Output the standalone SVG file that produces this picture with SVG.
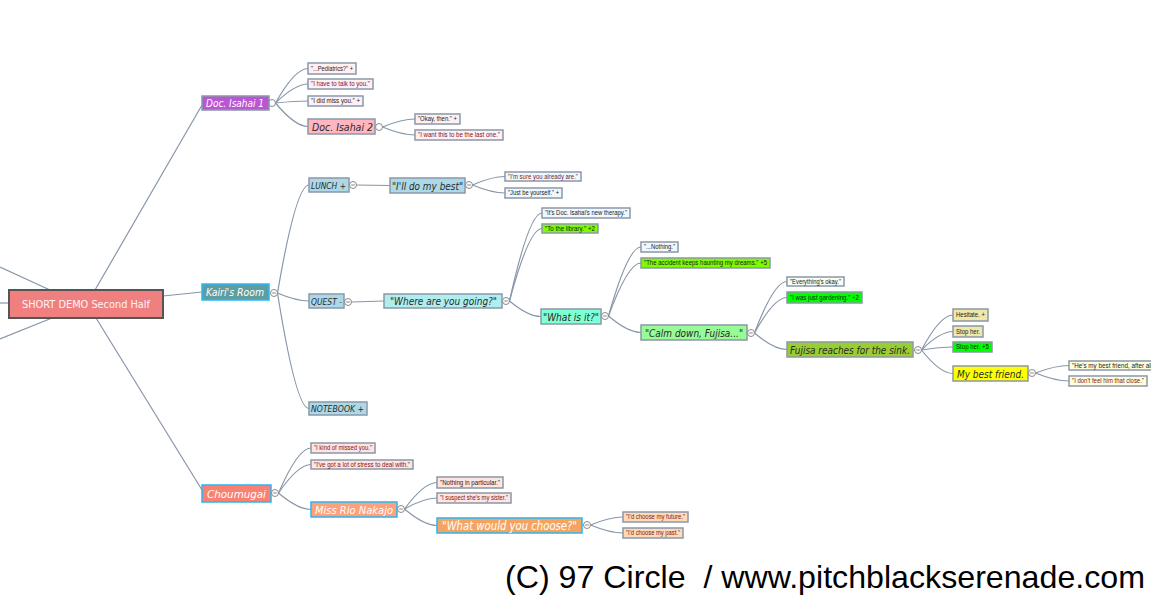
<svg xmlns="http://www.w3.org/2000/svg" width="1151" height="596" viewBox="0 0 1151 596">
<style>
.bg{fill:#ffffff}
.n{stroke:#8b98a9;stroke-width:1.5}
.cy{stroke:#29b6f6;stroke-width:1.5}
.root{fill:#f08080;stroke:#555;stroke-width:2}
.s{font-family:"Liberation Sans",Arial,sans-serif;font-size:6.5px;fill:#1a1a1a}
.r{fill:#7a1818}
.m{font-family:"DejaVu Sans","Liberation Sans",sans-serif;font-style:italic;font-size:10px;fill:#2a2a2a}
.w{fill:#ffffff}
.conn path,.conn line{fill:none;stroke:#8796aa;stroke-width:1.2}
.k circle{fill:#fff;stroke:#8a8a8a;stroke-width:1}
.k line{stroke:#777;stroke-width:0.9}
.foot{font-family:"Liberation Sans",Arial,sans-serif;font-size:32px;fill:#000;white-space:pre}
</style>
<rect class="bg" x="0" y="0" width="1151" height="596"/>
<g id="connectors" class="conn">
<line x1="95" y1="290" x2="202" y2="105"/>
<line x1="96" y1="318" x2="202" y2="490"/>
<line x1="163" y1="296" x2="202" y2="292"/>
<line x1="0" y1="267" x2="50" y2="290"/>
<line x1="0" y1="303" x2="9" y2="303"/>
<line x1="0" y1="339" x2="52" y2="318"/>
<path d="M275.5 103 Q295 68.5 308 68.5"/>
<path d="M275.5 103 Q295 84 308 84"/>
<path d="M275.5 103 Q295 101 308 101"/>
<path d="M275.5 103 Q295 126.5 308 126.5"/>
<path d="M382.5 127 Q402 119 415 119"/>
<path d="M382.5 127 Q402 135 415 135"/>
<path d="M277.5 293 Q296 185 309 185"/>
<path d="M277.5 293 Q296 301 309 301"/>
<path d="M277.5 293 Q296 408.5 309 408.5"/>
<line x1="356.5" y1="185" x2="390" y2="185.5"/>
<path d="M472.5 185 Q492 176.5 505 176.5"/>
<path d="M472.5 185 Q492 193 505 193"/>
<line x1="351.5" y1="302" x2="384" y2="301"/>
<path d="M509.5 301 Q529 213 542 213"/>
<path d="M509.5 301 Q529 228.5 542 228.5"/>
<path d="M509.5 301 Q528 316.5 541 316.5"/>
<path d="M608.5 316 Q628 247 641 247"/>
<path d="M608.5 316 Q628 263 641 263"/>
<path d="M608.5 316 Q628 332.5 641 332.5"/>
<path d="M754.5 333 Q774 281.5 787 281.5"/>
<path d="M754.5 333 Q774 297.5 787 297.5"/>
<path d="M754.5 333 Q774 349.5 787 349.5"/>
<path d="M921.5 350 Q940 315 953 315"/>
<path d="M921.5 350 Q940 331.5 953 331.5"/>
<path d="M921.5 350 Q940 347 953 347"/>
<path d="M921.5 350 Q940 373.5 953 373.5"/>
<path d="M1035.5 373 Q1055 365.5 1069 365.5"/>
<path d="M1035.5 373 Q1055 381 1069 381"/>
<path d="M278.5 493 Q298 448 311 448"/>
<path d="M278.5 493 Q298 464.5 311 464.5"/>
<path d="M278.5 493 Q298 509.5 311 509.5"/>
<path d="M404.5 509 Q424 482.5 437 482.5"/>
<path d="M404.5 509 Q424 498 437 498"/>
<path d="M404.5 509 Q424 525.5 437 525.5"/>
<path d="M590.5 525 Q610 517 623 517"/>
<path d="M590.5 525 Q610 533 623 533"/>
</g>
<g id="toggles" class="k">
<circle cx="272" cy="103" r="3.5"/>
<circle cx="379" cy="127" r="3.5"/>
<circle cx="274" cy="293" r="3.5"/><line x1="272.2" y1="293" x2="275.8" y2="293"/>
<circle cx="353" cy="185" r="3.5"/><line x1="351.2" y1="185" x2="354.8" y2="185"/>
<circle cx="469" cy="185" r="3.5"/><line x1="467.2" y1="185" x2="470.8" y2="185"/>
<circle cx="348" cy="302" r="3.5"/><line x1="346.2" y1="302" x2="349.8" y2="302"/>
<circle cx="506" cy="301" r="3.5"/><line x1="504.2" y1="301" x2="507.8" y2="301"/>
<circle cx="605" cy="316" r="3.5"/><line x1="603.2" y1="316" x2="606.8" y2="316"/>
<circle cx="751" cy="333" r="3.5"/><line x1="749.2" y1="333" x2="752.8" y2="333"/>
<circle cx="918" cy="350" r="3.5"/><line x1="916.2" y1="350" x2="919.8" y2="350"/>
<circle cx="1032" cy="373" r="3.5"/><line x1="1030.2" y1="373" x2="1033.8" y2="373"/>
<circle cx="275" cy="493" r="3.5"/><line x1="273.2" y1="493" x2="276.8" y2="493"/>
<circle cx="401" cy="509" r="3.5"/><line x1="399.2" y1="509" x2="402.8" y2="509"/>
<circle cx="587" cy="525" r="3.5"/><line x1="585.2" y1="525" x2="588.8" y2="525"/>
</g>
<g id="root"><rect class="root" x="9" y="290" width="154" height="28"/><text class="m w" style="font-style:normal;font-size:11px;fill:#fff4f4" x="22" y="308" textLength="128" lengthAdjust="spacingAndGlyphs">SHORT DEMO Second Half</text></g>
<g id="doc1"><rect class="n" x="202" y="96" width="67" height="14" fill="#ba55d3"/><text class="m w" x="206" y="107" textLength="58" lengthAdjust="spacingAndGlyphs">Doc. Isahai 1</text></g>
<g id="n-pediatrics"><rect class="n" x="308" y="63" width="48" height="11" fill="#fff0f5"/><text class="s" x="311" y="70.8" textLength="42" lengthAdjust="spacingAndGlyphs">"...Pediatrics?" +</text></g>
<g id="n-talk"><rect class="n" x="308" y="79" width="65" height="10" fill="#fff0f5"/><text class="s r" x="311" y="86.3" textLength="59" lengthAdjust="spacingAndGlyphs">"I have to talk to you."</text></g>
<g id="n-miss"><rect class="n" x="308" y="96" width="55" height="10" fill="#fff0f5"/><text class="s" x="311" y="103.3" textLength="49" lengthAdjust="spacingAndGlyphs">"I did miss you." +</text></g>
<g id="doc2"><rect class="n" x="308" y="119" width="67" height="15" fill="#ffb6c1"/><text class="m" x="312" y="130.5" textLength="61" lengthAdjust="spacingAndGlyphs">Doc. Isahai 2</text></g>
<g id="n-okay"><rect class="n" x="415" y="114" width="45" height="10" fill="#fff0f5"/><text class="s" x="418" y="121.3" textLength="39" lengthAdjust="spacingAndGlyphs">"Okay, then." +</text></g>
<g id="n-last"><rect class="n" x="415" y="130" width="88" height="10" fill="#fff0f5"/><text class="s r" x="418" y="137.3" textLength="82" lengthAdjust="spacingAndGlyphs">"I want this to be the last one."</text></g>
<g id="kairi"><rect class="cy" x="202" y="284" width="67" height="16" fill="#5f9ea0"/><text class="m w" x="206" y="296" textLength="58" lengthAdjust="spacingAndGlyphs">Kairi's Room</text></g>
<g id="lunch"><rect class="n" x="309" y="178" width="40" height="14" fill="#add8e6"/><text class="m" style="font-size:9px" x="311" y="188.5" textLength="35" lengthAdjust="spacingAndGlyphs">LUNCH +</text></g>
<g id="dobest"><rect class="n" x="390" y="178" width="75" height="15" fill="#add8e6"/><text class="m" x="392" y="189.5" textLength="71" lengthAdjust="spacingAndGlyphs">"I'll do my best"</text></g>
<g id="n-sure"><rect class="n" x="505" y="172" width="76" height="9" fill="#f0f8ff"/><text class="s r" x="508" y="178.8" textLength="70" lengthAdjust="spacingAndGlyphs">"I'm sure you already are."</text></g>
<g id="n-yourself"><rect class="n" x="505" y="188" width="57" height="10" fill="#f0f8ff"/><text class="s" x="508" y="195.3" textLength="51" lengthAdjust="spacingAndGlyphs">"Just be yourself." +</text></g>
<g id="quest"><rect class="n" x="309" y="294" width="35" height="14" fill="#add8e6"/><text class="m" style="font-size:9px" x="311" y="304.5" textLength="31" lengthAdjust="spacingAndGlyphs">QUEST -</text></g>
<g id="where"><rect class="n" x="384" y="294" width="118" height="14" fill="#afeeee"/><text class="m" x="390" y="305" textLength="107" lengthAdjust="spacingAndGlyphs">"Where are you going?"</text></g>
<g id="n-therapy"><rect class="n" x="542" y="208" width="88" height="10" fill="#f0f8ff"/><text class="s" x="545" y="215.3" textLength="82" lengthAdjust="spacingAndGlyphs">"It's Doc. Isahai's new therapy."</text></g>
<g id="n-library"><rect class="n" x="542" y="224" width="56" height="9" fill="#7cfc00"/><text class="s" x="545" y="230.8" textLength="50" lengthAdjust="spacingAndGlyphs">"To the library." +2</text></g>
<g id="whatis"><rect class="n" x="541" y="309" width="60" height="15" fill="#7fffd4"/><text class="m" x="543" y="320.5" textLength="56" lengthAdjust="spacingAndGlyphs">"What is it?"</text></g>
<g id="n-nothing"><rect class="n" x="641" y="242" width="37" height="10" fill="#f0f8ff"/><text class="s" x="644" y="249.3" textLength="31" lengthAdjust="spacingAndGlyphs">"...Nothing."</text></g>
<g id="n-accident"><rect class="n" x="641" y="258" width="129" height="10" fill="#7cfc00"/><text class="s" x="644" y="265.3" textLength="123" lengthAdjust="spacingAndGlyphs">"The accident keeps haunting my dreams." +5</text></g>
<g id="calm"><rect class="n" x="641" y="325" width="106" height="15" fill="#98fb98"/><text class="m" x="645" y="336.5" textLength="98" lengthAdjust="spacingAndGlyphs">"Calm down, Fujisa..."</text></g>
<g id="n-okay2"><rect class="n" x="787" y="277" width="57" height="9" fill="#f5fff5"/><text class="s" x="790" y="283.8" textLength="51" lengthAdjust="spacingAndGlyphs">"Everything's okay."</text></g>
<g id="n-garden"><rect class="n" x="787" y="292" width="75" height="11" fill="#00ff00"/><text class="s" x="790" y="299.8" textLength="69" lengthAdjust="spacingAndGlyphs">"I was just gardening." +2</text></g>
<g id="sink"><rect class="n" x="787" y="342" width="126" height="15" fill="#9acd32"/><text class="m" x="790" y="353.5" textLength="120" lengthAdjust="spacingAndGlyphs">Fujisa reaches for the sink.</text></g>
<g id="n-hesitate"><rect class="n" x="953" y="309" width="35" height="12" fill="#eee8aa"/><text class="s" x="956" y="317.3" textLength="29" lengthAdjust="spacingAndGlyphs">Hesitate. +</text></g>
<g id="n-stop"><rect class="n" x="953" y="326" width="30" height="11" fill="#eee8aa"/><text class="s" x="956" y="333.8" textLength="24" lengthAdjust="spacingAndGlyphs">Stop her.</text></g>
<g id="n-stop5"><rect class="n" x="953" y="342" width="39" height="10" fill="#00ff00"/><text class="s" x="956" y="349.3" textLength="33" lengthAdjust="spacingAndGlyphs">Stop her. +5</text></g>
<g id="bestfriend"><rect class="n" x="953" y="366" width="75" height="15" fill="#ffff00"/><text class="m" x="957" y="377.5" textLength="67" lengthAdjust="spacingAndGlyphs">My best friend.</text></g>
<g id="n-afterall"><rect class="n" x="1069" y="361" width="90" height="9" fill="#ffffe0"/><text class="s" x="1072" y="367.8" textLength="84" lengthAdjust="spacingAndGlyphs">"He's my best friend, after all."</text></g>
<g id="n-close"><rect class="n" x="1069" y="376" width="78" height="10" fill="#ffffe0"/><text class="s r" x="1072" y="383.3" textLength="72" lengthAdjust="spacingAndGlyphs">"I don't feel him that close."</text></g>
<g id="notebook"><rect class="n" x="309" y="402" width="58" height="13" fill="#add8e6"/><text class="m" style="font-size:9px" x="311" y="412" textLength="53" lengthAdjust="spacingAndGlyphs">NOTEBOOK +</text></g>
<g id="choumugai"><rect class="cy" x="202" y="485" width="69" height="17" fill="#fa8072"/><text class="m w" style="font-size:11px" x="207" y="497.5" textLength="59" lengthAdjust="spacingAndGlyphs">Choumugai</text></g>
<g id="n-missed"><rect class="n" x="311" y="443" width="64" height="10" fill="#ffe4e1"/><text class="s r" x="314" y="450.3" textLength="58" lengthAdjust="spacingAndGlyphs">"I kind of missed you."</text></g>
<g id="n-stress"><rect class="n" x="311" y="460" width="102" height="9" fill="#ffe4e1"/><text class="s r" x="314" y="466.8" textLength="96" lengthAdjust="spacingAndGlyphs">"I've got a lot of stress to deal with."</text></g>
<g id="rio"><rect class="cy" x="311" y="502" width="86" height="15" fill="#ffa07a"/><text class="m w" x="315" y="513.5" textLength="78" lengthAdjust="spacingAndGlyphs">Miss Rio Nakajo</text></g>
<g id="n-particular"><rect class="n" x="437" y="477" width="66" height="11" fill="#ffe4e1"/><text class="s" x="440" y="484.8" textLength="60" lengthAdjust="spacingAndGlyphs">"Nothing in particular."</text></g>
<g id="n-sister"><rect class="n" x="437" y="493" width="74" height="10" fill="#ffe4e1"/><text class="s r" x="440" y="500.3" textLength="68" lengthAdjust="spacingAndGlyphs">"I suspect she's my sister."</text></g>
<g id="choose"><rect class="cy" x="437" y="518" width="145" height="15" fill="#f4a460"/><text class="m w" style="font-size:12px" x="442" y="530" textLength="135" lengthAdjust="spacingAndGlyphs">"What would you choose?"</text></g>
<g id="n-future"><rect class="n" x="623" y="512" width="65" height="10" fill="#ffdab9"/><text class="s r" x="626" y="519.3" textLength="59" lengthAdjust="spacingAndGlyphs">"I'd choose my future."</text></g>
<g id="n-past"><rect class="n" x="623" y="528" width="60" height="10" fill="#ffdab9"/><text class="s r" x="626" y="535.3" textLength="54" lengthAdjust="spacingAndGlyphs">"I'd choose my past."</text></g>
<text class="foot" x="505" y="588" textLength="640" lengthAdjust="spacingAndGlyphs" xml:space="preserve">(C) 97 Circle  / www.pitchblackserenade.com</text>
</svg>
